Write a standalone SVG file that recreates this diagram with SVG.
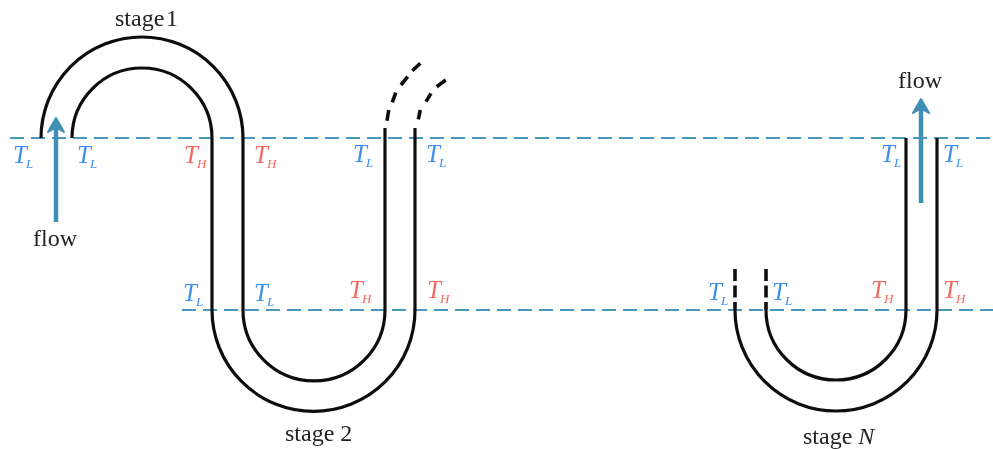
<svg xmlns="http://www.w3.org/2000/svg" width="993" height="449" viewBox="0 0 993 449">
<defs><filter id="soft" x="0" y="0" width="100%" height="100%"><feGaussianBlur stdDeviation="0.5"/></filter></defs>
<style>
.pipe{fill:none;stroke:#111;stroke-width:3.2}
.dash{fill:none;stroke:#111;stroke-width:3.6}
.dashv{fill:none;stroke:#111;stroke-width:3.6;stroke-dasharray:12 4.500}
.ref{fill:none;stroke:#4a97bd;stroke-width:2;stroke-dasharray:14 7}
.flow{fill:none;stroke:#3f8fb5;stroke-width:4.500}
.head{fill:#3f8fb5;stroke:#3f8fb5;stroke-width:2;stroke-linejoin:round}
text{font-family:"Liberation Serif","Times New Roman",serif}
.lab{font-size:24px;fill:#222}
.T{font-size:25px;font-style:italic}
.s{font-size:13px;font-style:italic}
.c{fill:#3d8ff0}
.h{fill:#f5685e}
</style>
<rect width="993" height="449" fill="#fff"/>
<g filter="url(#soft)">
<g id="connectors">
<path class="ref" d="M10 138H993"/>
<path class="ref" d="M182 310H993"/>
<path class="flow" d="M56 222V125"/>
<path class="head" d="M56 118L64 132L56 127.500L48 132Z"/>
<path class="flow" d="M921 203V105"/>
<path class="head" d="M921 99L929 113L921 108.500L913 113Z"/>
</g>
<g id="stage-1">
<path class="pipe" d="M41 138A101 101 0 0 1 243 138V310"/>
<path class="pipe" d="M72 138A70 70 0 0 1 212 138V310"/>
<text class="lab" x="115" y="26">stage</text><text class="lab" x="166" y="26">1</text>
</g>
<g id="stage-2">
<path class="pipe" d="M212 310A101.500 101.500 0 0 0 415 310V128"/>
<path class="pipe" d="M243 310A71 71 0 0 0 385 310V128"/>
<path class="dash" d="M387 120.700L388.700 110M392.300 102.300L395.700 92.700M401 85L407.700 76.700M412.300 70.700L420.300 63.300"/>
<path class="dash" d="M418.300 119.300L420.300 110M426 101.700L431 93.300M436.700 86.700L445.700 80"/>
<text class="lab" x="285" y="441">stage 2</text>
</g>
<g id="stage-N">
<path class="pipe" d="M735 310A101 101 0 0 0 937 310V138"/>
<path class="pipe" d="M766 310A70 70 0 0 0 906 310V138"/>
<path class="dashv" d="M735 269V310"/>
<path class="dashv" d="M766 269V310"/>
<text class="lab" x="803" y="444">stage <tspan font-style="italic">N</tspan></text>
</g>
<g id="labels">
<text class="T c" x="13" y="163">T</text><text class="s c" x="26" y="168">L</text>
<text class="T c" x="77" y="163">T</text><text class="s c" x="90" y="168">L</text>
<text class="T h" x="184" y="163">T</text><text class="s h" x="197" y="168">H</text>
<text class="T h" x="254" y="163">T</text><text class="s h" x="267" y="168">H</text>
<text class="T c" x="353" y="162">T</text><text class="s c" x="366" y="167">L</text>
<text class="T c" x="426" y="162">T</text><text class="s c" x="439" y="167">L</text>
<text class="T c" x="881" y="162">T</text><text class="s c" x="894" y="167">L</text>
<text class="T c" x="943" y="162">T</text><text class="s c" x="956" y="167">L</text>
<text class="T c" x="183" y="301">T</text><text class="s c" x="196" y="306">L</text>
<text class="T c" x="254" y="301">T</text><text class="s c" x="267" y="306">L</text>
<text class="T h" x="349" y="298">T</text><text class="s h" x="362" y="303">H</text>
<text class="T h" x="427" y="298">T</text><text class="s h" x="440" y="303">H</text>
<text class="T c" x="708" y="300">T</text><text class="s c" x="721" y="305">L</text>
<text class="T c" x="772" y="300">T</text><text class="s c" x="785" y="305">L</text>
<text class="T h" x="871" y="298">T</text><text class="s h" x="884" y="303">H</text>
<text class="T h" x="943" y="298">T</text><text class="s h" x="956" y="303">H</text>
<text class="lab" x="33" y="246">flow</text>
<text class="lab" x="898" y="88">flow</text>
</g>
</g>
</svg>
